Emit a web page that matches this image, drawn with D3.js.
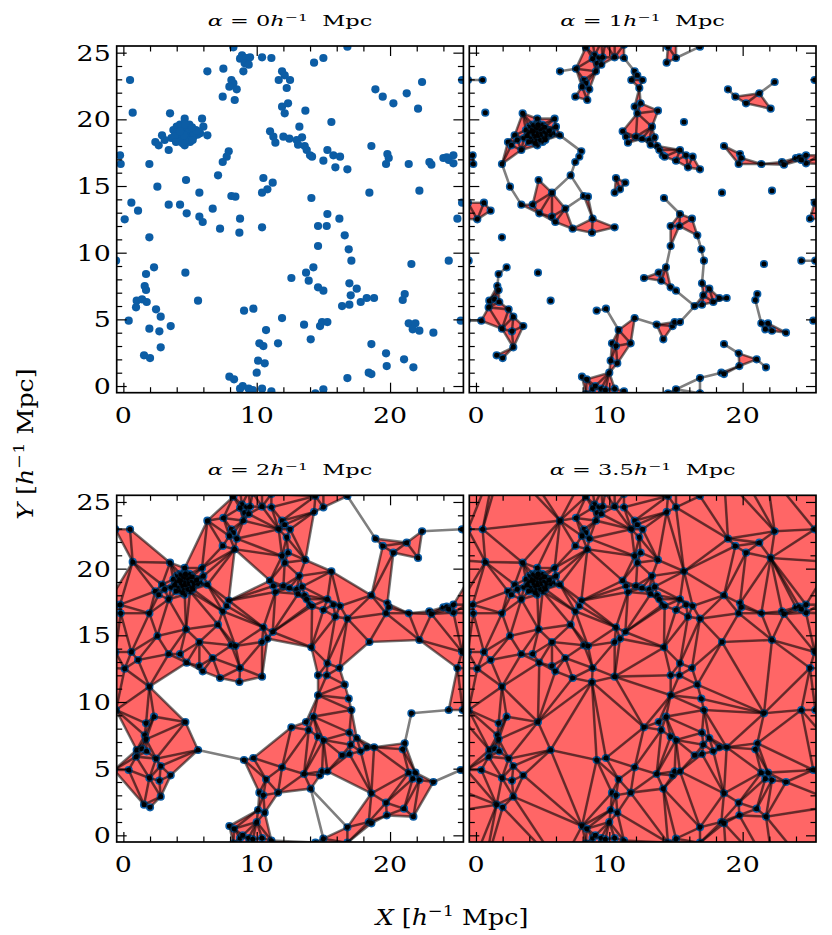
<!DOCTYPE html>
<html>
<head>
<meta charset="utf-8">
<script src="https://cdn.jsdelivr.net/npm/d3@7"></script>
<style>
  body { margin: 0; background: #fff; }
  svg { display: block; }
</style>
</head>
<body>
<div id="wrapper"></div>
<script>
const pointsNorthWest = [
  [8.25, 25.4], [8.9, 24.8], [8.75, 24.55], [9.25, 24.6], [9.5, 24.65], [9.1, 24.2], [9.4, 24.1], [9.0, 23.6],
  [10.4, 24.65], [11.1, 24.6], [6.3, 23.6], [7.5, 23.8], [0.5, 22.95], [8.1, 22.95], [8.25, 22.7], [7.95, 22.45],
  [8.5, 22.25], [7.45, 21.7], [8.35, 21.45], [11.9, 23.6], [12.1, 23.3], [11.65, 22.95], [12.5, 22.95], [12.25, 22.35],
  [11.9, 20.95], [12.35, 21.2], [12.1, 20.45], [0.7, 20.5], [3.5, 20.45], [4.6, 20.05], [5.9, 20.05],
  [6.0, 19.45], [6.3, 18.8], [5.75, 18.95], [5.4, 19.2], [4.0, 19.45], [4.25, 19.6], [4.75, 19.45], [4.4, 19.1],
  [3.9, 18.95], [4.9, 18.8], [5.25, 18.7], [4.5, 18.45], [4.1, 18.6], [3.6, 18.6], [2.9, 18.8], [2.4, 18.3],
  [2.65, 18.05], [3.4, 17.7], [4.6, 18.05], [5.0, 18.3], [4.6, 19.0], [4.3, 18.85], [4.8, 19.2], [5.1, 19.05],
  [3.75, 19.2], [4.15, 19.25], [5.55, 18.85], [3.1, 18.45], [4.95, 19.6], [4.45, 19.35],
  [-0.25, 17.3], [-0.2, 16.65], [1.95, 16.65], [7.9, 17.6], [7.75, 17.2], [7.45, 16.8], [11.0, 19.1], [11.25, 18.7],
  [11.4, 18.25], [12.0, 18.7], [12.45, 18.55], [7.1, 15.8], [4.7, 15.45], [2.55, 14.95], [5.7, 14.5], [10.5, 15.6],
  [11.2, 15.25], [10.8, 14.75], [10.4, 14.5], [8.1, 14.25], [8.4, 14.2], [0.6, 13.75], [1.1, 13.15], [3.4, 13.6],
  [4.25, 13.6], [4.75, 12.95], [5.7, 12.7], [6.7, 13.3], [0.1, 12.5], [8.75, 12.55]
];
// the dense knot around (4.6, 19)
const pointsKnot = [
  [4.05, 19.05], [4.35, 19.5], [4.6, 19.3], [4.85, 18.95], [5.05, 18.6], [4.7, 18.7], [4.4, 18.65], [4.2, 18.35],
  [4.8, 18.45], [5.3, 18.95], [5.5, 19.15], [3.85, 18.75], [4.55, 18.8], [4.25, 19.1], [4.95, 19.3], [5.2, 18.45],
  [3.95, 18.3], [4.65, 19.6], [5.15, 19.4], [4.45, 18.2]
];
const pointsNorthEast = [
  [13.65, 20.65], [16.8, 25.45], [14.3, 24.25], [15.0, 24.6], [18.9, 22.25], [19.45, 21.7], [20.25, 21.2], [21.25, 21.95],
  [22.4, 22.8], [22.1, 20.8], [25.4, 22.95], [15.6, 19.8], [13.2, 19.45], [13.0, 18.45], [13.4, 18.65], [13.1, 18.1],
  [13.6, 18.0], [13.75, 17.7], [14.0, 17.3], [14.15, 17.2], [15.3, 17.7], [15.75, 17.3], [16.25, 17.2], [15.0, 16.9],
  [15.9, 16.4], [16.8, 16.25], [18.6, 18.0], [19.8, 17.4], [19.9, 17.1], [19.7, 16.65], [21.4, 16.65], [22.95, 16.8],
  [23.1, 16.6], [24.0, 17.1], [24.25, 17.15], [24.75, 17.3], [24.75, 16.7], [24.4, 16.95], [14.1, 14.1], [18.45, 14.5],
  [22.2, 14.65], [25.4, 13.75], [15.3, 12.9], [16.2, 12.55], [25.05, 12.55]
];
const pointsSouthWest = [
  [5.95, 12.3], [8.7, 11.5], [7.25, 11.8], [10.4, 11.9], [1.95, 11.15], [-0.55, 9.4], [2.3, 8.9], [1.7, 8.4],
  [4.65, 8.5], [1.6, 7.5], [1.7, 7.2], [1.0, 6.4], [1.4, 6.5], [1.75, 6.3], [0.95, 5.9], [5.6, 6.4],
  [2.45, 5.75], [2.8, 5.2], [0.4, 4.9], [1.95, 4.3], [2.7, 4.1], [3.55, 4.5], [2.8, 2.9], [1.55, 2.3],
  [2.0, 2.1], [9.05, 5.65], [9.75, 5.8], [11.9, 5.1], [12.6, 8.1], [10.7, 4.2], [10.2, 3.2], [10.5, 3.0],
  [11.6, 3.2], [10.1, 1.9], [10.6, 1.7], [10.0, 1.0], [7.95, 0.7], [8.3, 0.5], [8.75, -0.2], [8.95, 0.0],
  [9.4, -0.2], [10.4, -0.2], [11.1, -0.4], [9.7, -0.3]
];
const pointsSouthEast = [
  [14.6, 12.0], [15.25, 12.0], [16.6, 11.3], [14.6, 10.5], [16.9, 10.25], [17.1, 9.4], [21.6, 9.15], [24.4, 9.4],
  [14.25, 8.9], [13.7, 8.5], [13.9, 7.9], [14.6, 7.4], [15.0, 7.15], [16.95, 7.7], [17.5, 7.3], [17.05, 6.8],
  [16.4, 6.0], [16.95, 6.1], [17.8, 6.3], [18.25, 6.6], [18.8, 6.6], [21.1, 6.9], [20.95, 6.45], [13.55, 4.6],
  [14.75, 4.5], [14.9, 4.8], [15.3, 4.8], [14.05, 3.5], [21.4, 4.7], [21.9, 4.7], [21.7, 4.25], [22.2, 4.15],
  [23.25, 4.0], [25.3, 4.9], [18.6, 3.15], [19.7, 2.45], [19.75, 1.5], [21.05, 2.0], [21.75, 1.4], [18.4, 1.0],
  [18.6, 0.9], [16.8, 0.6], [15.0, -0.25], [14.4, -0.55]
];

const alphaValues = [0, 1, 2, 3.5];
const alphaLabels = ["0", "1", "2", "3.5"];
const xMajorTicks = [0, 10, 20];
const yMajorTicks = [0, 5, 10, 15, 20, 25];
const xTickLabels = ["0", "10", "20"];
const yTickLabels = ["0", "5", "10", "15", "20", "25"];

const allPoints = [...pointsNorthWest, ...pointsKnot, ...pointsNorthEast, ...pointsSouthWest, ...pointsSouthEast];

// layout
const dims = {
  width: 832, height: 935,
  colX: [116.7, 469.3],
  rowY: [46, 495.3],
  size: 346.7
};
const domain = [-0.5, 25.5];
const blue = "#0C5DA5";
const serif = "DejaVu Serif, serif";

// periodic copies so the complex wraps round the box edges
const period = 26, pad = 5;
const ext = [];
allPoints.forEach(([x, y]) => {
  [-1, 0, 1].forEach(i => [-1, 0, 1].forEach(j => {
    const px = x + i * period, py = y + j * period;
    if (px > domain[0] - pad && px < domain[1] + pad && py > domain[0] - pad && py < domain[1] + pad) ext.push([px, py]);
  }));
});

const delaunay = d3.Delaunay.from(ext);
const { triangles, halfedges } = delaunay;
const nextHalf = e => (e % 3 === 2 ? e - 2 : e + 1);
const prevHalf = e => (e % 3 === 0 ? e + 2 : e - 1);

// circumradius of each Delaunay triangle
const triList = [];
for (let t = 0; t < triangles.length / 3; t++) {
  const [a, b, c] = [triangles[3 * t], triangles[3 * t + 1], triangles[3 * t + 2]].map(i => ext[i]);
  const la = Math.hypot(b[0] - c[0], b[1] - c[1]);
  const lb = Math.hypot(a[0] - c[0], a[1] - c[1]);
  const lc = Math.hypot(a[0] - b[0], a[1] - b[1]);
  const area = Math.abs((b[0] - a[0]) * (c[1] - a[1]) - (c[0] - a[0]) * (b[1] - a[1])) / 2;
  triList.push({ pts: [a, b, c], r: area > 1e-9 ? (la * lb * lc) / (4 * area) : Infinity });
}

// edge filtration value: half length when Gabriel, else smallest coface radius
const edgeList = [];
for (let e = 0; e < halfedges.length; e++) {
  const twin = halfedges[e];
  if (twin !== -1 && twin < e) continue;
  const pa = ext[triangles[e]], pb = ext[triangles[nextHalf(e)]];
  const obtuseAt = c => (pa[0] - c[0]) * (pb[0] - c[0]) + (pa[1] - c[1]) * (pb[1] - c[1]) <= 0;
  let gabriel = !obtuseAt(ext[triangles[prevHalf(e)]]);
  let minR = triList[Math.floor(e / 3)].r;
  if (twin !== -1) {
    if (obtuseAt(ext[triangles[prevHalf(twin)]])) gabriel = false;
    minR = Math.min(minR, triList[Math.floor(twin / 3)].r);
  }
  const half = Math.hypot(pa[0] - pb[0], pa[1] - pb[1]) / 2;
  edgeList.push({ pa, pb, value: gabriel ? half : minR });
}

const svg = d3.select("#wrapper").append("svg")
  .attr("width", dims.width)
  .attr("height", dims.height);

let titleScale = null;

alphaValues.forEach((alpha, p) => {
  const row = Math.floor(p / 2), col = p % 2;
  const x0 = dims.colX[col], y0 = dims.rowY[row], s = dims.size;
  const xScale = d3.scaleLinear().domain(domain).range([x0, x0 + s]);
  const yScale = d3.scaleLinear().domain(domain).range([y0 + s, y0]);

  const clipId = "clip" + p;
  svg.append("clipPath").attr("id", clipId)
    .append("rect").attr("x", x0).attr("y", y0).attr("width", s).attr("height", s);
  const plot = svg.append("g").attr("clip-path", `url(#${clipId})`);
  const line = d3.line().x(d => xScale(d[0])).y(d => yScale(d[1]));

  if (alpha === 0) {
    plot.selectAll("circle").data(allPoints).join("circle")
      .attr("cx", d => xScale(d[0])).attr("cy", d => yScale(d[1]))
      .attr("r", 4.1).attr("fill", blue);
  } else {
    // filled simplices, then the points, then the edges drawn over them
    plot.append("g").selectAll("path").data(triList.filter(t => t.r <= alpha)).join("path")
      .attr("d", d => line(d.pts) + "Z")
      .attr("fill", "#ff0000").attr("fill-opacity", 0.6)
      .attr("stroke", "#000").attr("stroke-opacity", 0.15).attr("stroke-width", 1.5)
      .attr("stroke-linejoin", "round");
    plot.append("g").selectAll("circle").data(ext).join("circle")
      .attr("cx", d => xScale(d[0])).attr("cy", d => yScale(d[1]))
      .attr("r", 3.3).attr("fill", "#000").attr("stroke", blue).attr("stroke-width", 1.6);
    plot.append("g").selectAll("path").data(edgeList.filter(e => e.value <= alpha)).join("path")
      .attr("d", d => line([d.pa, d.pb]))
      .attr("stroke", "#000").attr("stroke-opacity", 0.5).attr("stroke-width", 2.6)
      .attr("stroke-linecap", "round").attr("fill", "none");
  }

  // inward ticks on all four sides
  const addTicks = (axis, transform, size, values) => {
    svg.append("g").attr("transform", transform)
      .call(axis.tickValues(values).tickSize(-size).tickFormat(""))
      .call(g => g.select(".domain").remove())
      .call(g => g.selectAll("line").attr("stroke", "#000").attr("stroke-width", 1.2));
  };
  const xMinor = d3.range(0, 26, 2).filter(v => !xMajorTicks.includes(v));
  const yMinor = d3.range(0, 26, 1).filter(v => !yMajorTicks.includes(v));
  [[xMajorTicks, 10], [xMinor, 5.5]].forEach(([vals, len]) => {
    addTicks(d3.axisBottom(xScale), `translate(0,${y0 + s})`, len, vals);
    addTicks(d3.axisTop(xScale), `translate(0,${y0})`, len, vals);
  });
  [[yMajorTicks, 10], [yMinor, 5.5]].forEach(([vals, len]) => {
    addTicks(d3.axisLeft(yScale), `translate(${x0},0)`, len, vals);
    addTicks(d3.axisRight(yScale), `translate(${x0 + s},0)`, len, vals);
  });

  svg.append("rect").attr("x", x0).attr("y", y0).attr("width", s).attr("height", s)
    .attr("fill", "none").attr("stroke", "#000").attr("stroke-width", 1.7);

  // tick labels
  svg.append("g").selectAll("text").data(xMajorTicks).join("text")
    .attr("transform", d => `translate(${xScale(d)},${y0 + s + 30}) scale(1.22,1)`)
    .attr("text-anchor", "middle").attr("font-family", serif).attr("font-size", 22)
    .text((d, i) => xTickLabels[i]);
  if (col === 0) {
    svg.append("g").selectAll("text").data(yMajorTicks).join("text")
      .attr("transform", d => `translate(${x0 - 6},${yScale(d) + 8}) scale(1.22,1)`)
      .attr("text-anchor", "end").attr("font-family", serif).attr("font-size", 22)
      .text((d, i) => yTickLabels[i]);
  }

  // panel title
  const title = svg.append("text")
    .attr("text-anchor", "middle").attr("font-family", serif).attr("font-size", 14);
  title.append("tspan").attr("font-style", "italic").text("α");
  title.append("tspan").text(" = " + alphaLabels[p]);
  title.append("tspan").attr("font-style", "italic").text("h");
  title.append("tspan").attr("font-size", "70%").attr("dy", -5.5).text("−1");
  title.append("tspan").attr("dy", 5.5).text("\u00a0 Mpc");
  if (titleScale === null) titleScale = 165 / title.node().getBBox().width;
  title.attr("transform", `translate(${x0 + s / 2},${y0 - 20}) scale(${titleScale},1)`);
});

// axis labels
const axisLabel = (sel, letter) => {
  sel.attr("text-anchor", "middle").attr("font-family", serif).attr("font-size", 22);
  sel.append("tspan").attr("font-style", "italic").text(letter);
  sel.append("tspan").text(" [");
  sel.append("tspan").attr("font-style", "italic").text("h");
  sel.append("tspan").attr("font-size", "70%").attr("dy", -9).text("−1");
  sel.append("tspan").attr("dy", 9).text("\u00a0Mpc]");
};
const xLabel = svg.append("text").call(axisLabel, "X");
const labelScale = 155 / xLabel.node().getBBox().width;
xLabel.attr("transform", `translate(452,925) scale(${labelScale},1)`);
svg.append("text").call(axisLabel, "Y")
  .attr("transform", `translate(33,444) rotate(-90) scale(${labelScale},1)`);
</script>
</body>
</html>
